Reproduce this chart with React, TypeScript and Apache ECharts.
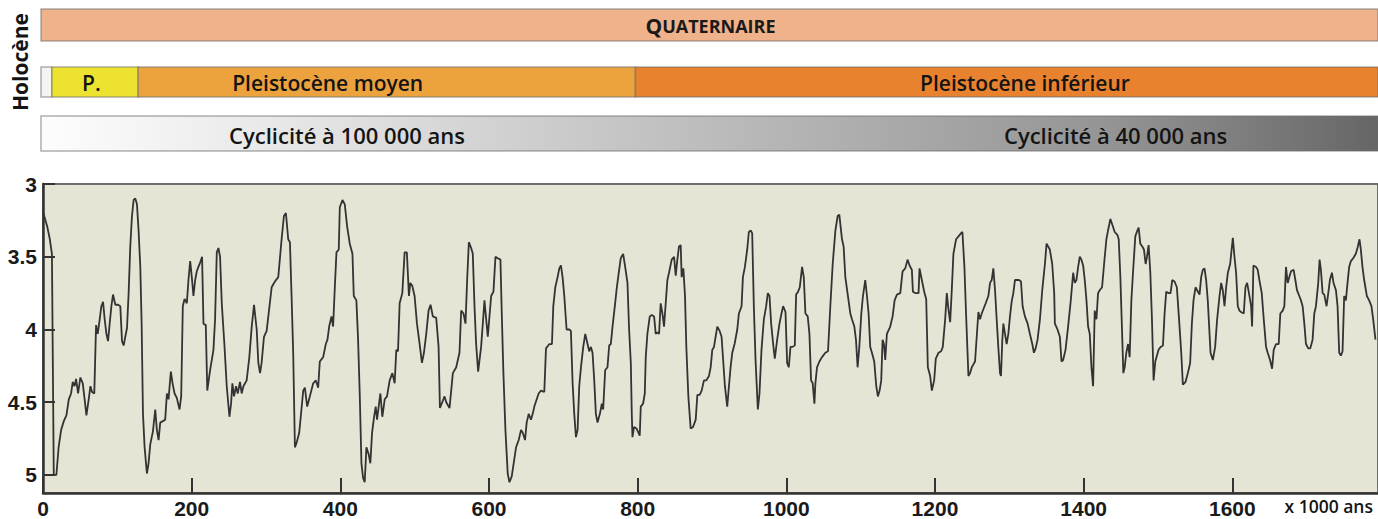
import React, { useEffect, useRef } from "react";
import * as echarts from "echarts";

// ---- δ18O record (age in ka, value in ‰) ----
const d18O_0_292: [number, number][] = [
  [0, 3.19], [5.6, 3.29], [9.2, 3.38], [12, 3.48], [14.5, 5.0], [18, 5.0], [21, 4.81], [24.4, 4.69], [28, 4.63], [31.5, 4.59],
  [34.7, 4.48], [37.8, 4.44], [40, 4.36], [42.3, 4.39], [44.5, 4.34], [47.2, 4.44], [50.3, 4.33], [53.5, 4.37], [56, 4.48], [58.4, 4.59],
  [61.5, 4.48], [63.8, 4.39], [66, 4.43], [69, 4.44], [71.4, 3.97], [73.6, 4.03], [76.3, 3.93], [78.5, 3.84], [80.8, 3.81], [83, 3.93],
  [85.3, 4.03], [87.5, 4.08], [89.7, 3.96], [92, 3.84], [94.2, 3.76], [97.3, 3.83], [100.9, 3.83], [104, 3.84], [106.3, 4.08], [108.5, 4.11],
  [110.7, 4.05], [113, 3.99], [115.2, 3.75], [117.4, 3.43], [119.7, 3.22], [121.9, 3.11], [124.2, 3.1], [126.4, 3.14], [128.6, 3.32], [130.9, 3.57],
  [132.7, 3.96], [134.5, 4.58], [136.7, 4.81], [139.8, 4.99], [142, 4.92], [144.3, 4.79], [147.9, 4.7], [151, 4.55], [153.2, 4.69], [155.5, 4.76],
  [157.7, 4.64], [161.3, 4.63], [164.4, 4.62], [166.7, 4.44], [168.9, 4.48], [172, 4.29], [174.3, 4.37], [177, 4.44], [180, 4.47], [183.7, 4.55],
  [185.9, 4.46], [188.1, 3.84], [190.4, 3.79], [193.5, 3.82], [195.7, 3.66], [198, 3.53], [200.2, 3.64], [202.4, 3.77], [204.7, 3.66], [206.9, 3.6],
  [209.1, 3.57], [211.4, 3.54], [214, 3.5], [215.9, 3.96], [219, 3.97], [221, 4.42], [224.8, 4.28], [229.3, 4.14], [231.5, 3.93], [233.8, 3.47],
  [236, 3.44], [238.2, 3.5], [240.5, 3.82], [244, 4.1], [247.2, 4.39], [250.8, 4.6], [253, 4.51], [254.8, 4.37], [257, 4.46], [259.7, 4.39],
  [262, 4.44], [265, 4.36], [267.3, 4.44], [269.6, 4.39], [274, 4.35], [277.6, 4.19], [280.8, 3.98], [283.9, 3.83], [287.5, 4.0], [289.7, 4.23],
  [292, 4.3],
];
const d18O_292_600: [number, number][] = [
  [294.1, 4.23], [297.3, 4.05], [300.9, 4.01], [307.6, 3.71], [312, 3.67], [316.5, 3.64], [321, 3.38], [324.1, 3.22], [326.8, 3.2], [329.9, 3.38],
  [332.2, 3.4], [334.4, 3.77], [336.6, 4.16], [338.9, 4.81], [341.1, 4.78], [344.7, 4.71], [350.1, 4.42], [352.3, 4.4], [355.4, 4.53], [359, 4.46],
  [363.5, 4.37], [367.1, 4.35], [370.2, 4.4], [372.4, 4.22], [376.9, 4.19], [380.5, 4.1], [382.7, 4.07], [385, 3.98], [388.1, 3.91], [390.3, 3.98],
  [392.6, 3.71], [394.8, 3.47], [397.9, 3.45], [399.3, 3.16], [402.9, 3.11], [406, 3.14], [409.1, 3.29], [412.7, 3.41], [416.3, 3.48], [418.1, 3.77],
  [421.6, 3.8], [423.9, 4.07], [426.1, 4.44], [428.4, 4.92], [430.6, 5.02], [432.8, 5.05], [435.1, 4.81], [438.2, 4.86], [440.4, 4.92], [442.7, 4.71],
  [445.4, 4.6], [447.6, 4.53], [449.4, 4.62], [451.6, 4.53], [453.9, 4.44], [456.5, 4.6], [459.7, 4.48], [462.8, 4.46], [466.4, 4.35], [470, 4.3],
  [473.1, 4.37], [475.3, 4.14], [477.6, 4.15], [479.8, 3.82], [483.4, 3.75], [486.5, 3.47], [489.5, 3.47], [492.3, 3.77], [494.1, 3.68], [496.8, 3.7],
  [499.9, 3.77], [503.1, 3.96], [506.7, 4.1], [509.8, 4.23], [512.5, 4.16], [515.6, 4.03], [518.7, 3.87], [521.4, 3.83], [524.5, 3.91], [529, 3.92],
  [532.2, 4.12], [534, 4.54], [537.1, 4.5], [540.2, 4.46], [542.5, 4.5], [546.9, 4.54], [551.4, 4.3], [555.9, 4.26], [560.3, 4.16], [562.6, 3.87],
  [565.7, 3.89], [568.4, 3.96], [570.6, 3.66], [572.9, 3.4], [576, 3.44], [578.2, 3.48], [580.5, 3.84], [582.7, 4.1], [585.4, 4.29], [589.4, 4.12],
  [591.7, 3.96], [593.9, 3.8], [596.2, 3.93], [598.4, 4.05],
];
const d18O_600_870: [number, number][] = [
  [602.9, 3.77], [606, 3.74], [608.7, 3.5], [611.8, 3.51], [615.4, 3.52], [617.2, 3.89], [619.4, 4.3], [622.1, 4.69], [625.2, 4.99], [627.5, 5.05],
  [630.6, 5.01], [636.4, 4.81], [640, 4.76], [643.1, 4.69], [645.4, 4.71], [648.5, 4.76], [650.7, 4.64], [653.4, 4.58], [656.5, 4.62], [658.8, 4.58],
  [661, 4.53], [664.2, 4.48], [666.8, 4.44], [670, 4.42], [674.4, 4.43], [676.7, 4.13], [681.2, 4.1], [684.7, 4.1], [686.5, 3.84], [689.2, 3.71],
  [692.3, 3.64], [694.6, 3.58], [696.8, 3.56], [699, 3.64], [701.3, 3.77], [704.4, 4.0], [708, 4.0], [710.2, 4.01], [712.5, 4.37], [714.7, 4.58],
  [717, 4.74], [719.2, 4.69], [721.4, 4.39], [723.7, 4.26], [726.8, 4.12], [729.5, 4.03], [732.6, 4.1], [734.8, 4.15], [737.1, 4.12], [739.3, 4.16],
  [741.6, 4.35], [743.8, 4.58], [746, 4.64], [749.2, 4.58], [751.8, 4.51], [753.6, 4.55], [756.3, 4.28], [759.4, 4.26], [761.7, 4.11], [763.9, 4.1],
  [766.2, 3.98], [769.3, 3.84], [772, 3.71], [775.1, 3.59], [777.3, 3.51], [780.5, 3.48], [783.2, 3.57], [786.3, 3.68], [788.5, 4.0], [790.8, 4.23],
  [792.1, 4.58], [793, 4.74], [795.2, 4.67], [798.4, 4.68], [802.8, 4.73], [804.2, 4.53], [807.3, 4.51], [809.6, 4.44], [810.9, 4.19], [813.1, 4.03],
  [816.3, 3.91], [819, 3.9], [822.1, 3.91], [824.3, 4.03], [826.6, 4.02], [828.8, 4.03], [831, 3.82], [833.3, 3.89], [835.5, 3.98], [840, 3.66],
  [842.2, 3.61], [845.8, 3.52], [849, 3.5], [851.2, 3.63], [853.4, 3.52], [855.6, 3.43], [857.9, 3.42], [859.2, 3.64], [861.5, 3.58], [863.7, 3.77],
  [865.5, 4.12], [868.2, 4.46],
];
const d18O_870_1137: [number, number][] = [
  [871.3, 4.68], [874.5, 4.67], [878.1, 4.62], [880.3, 4.45], [883.4, 4.45], [886.1, 4.42], [889.2, 4.35], [892.4, 4.35], [895.9, 4.32], [898.2, 4.26],
  [900.4, 4.14], [902.7, 4.12], [907.1, 3.98], [910.3, 4.01], [912.9, 4.05], [917.4, 4.39], [920.5, 4.53], [922.8, 4.39], [925, 4.26], [927.3, 4.16],
  [930.4, 4.1], [934, 4.0], [936.2, 3.89], [939.8, 3.84], [941.6, 3.64], [944.3, 3.57], [947.4, 3.45], [949.6, 3.33], [952.3, 3.32], [954.1, 3.34],
  [956.3, 3.84], [958.6, 4.21], [961.7, 4.55], [963.9, 4.44], [966.6, 4.14], [969.8, 3.93], [972.9, 3.84], [975.1, 3.75], [977.4, 3.77], [979.6, 3.96],
  [982.3, 4.1], [984.5, 4.2], [987.7, 4.07], [990.8, 3.96], [993.5, 3.89], [995.7, 3.84], [998.9, 3.88], [1001.1, 4.23], [1003.3, 4.26], [1005.6, 4.12],
  [1007.8, 4.12], [1011.4, 4.11], [1013.2, 3.76], [1015.8, 3.74], [1018.1, 3.71], [1021.2, 3.57], [1023.5, 3.64], [1025.7, 3.89], [1028.8, 3.91], [1031.1, 4.03],
  [1033.3, 4.35], [1035.5, 4.37], [1037.8, 4.51], [1039.1, 4.37], [1041.3, 4.26], [1044.5, 4.22], [1048, 4.19], [1052.5, 4.16], [1056.1, 4.15], [1059.2, 3.84],
  [1062.4, 3.55], [1066, 3.32], [1069.1, 3.22], [1071.3, 3.21], [1074.9, 3.38], [1077.1, 3.43], [1079.4, 3.64], [1082.9, 3.77], [1086.1, 3.89], [1088.3, 3.93],
  [1091.5, 3.98], [1093.7, 4.07], [1095.9, 4.26], [1098.2, 4.12], [1100.9, 3.89], [1103.1, 3.77], [1106.2, 3.66], [1108.5, 3.77], [1110.7, 3.89], [1112.9, 4.12],
  [1115.2, 4.16], [1118.3, 4.22], [1121, 4.39], [1123.2, 4.46], [1125.5, 4.42], [1127.7, 4.35], [1129.5, 4.07], [1131.3, 4.1], [1133.1, 4.21], [1135.3, 4.03],
];
const d18O_1137_1352: [number, number][] = [
  [1139.8, 3.98], [1143, 3.91], [1145.7, 3.8], [1148.8, 3.76], [1153.3, 3.75], [1156.4, 3.6], [1160, 3.58], [1163.1, 3.52], [1165.8, 3.56], [1168.9, 3.59],
  [1170.3, 3.74], [1173.4, 3.75], [1177.9, 3.75], [1179.2, 3.58], [1182.3, 3.66], [1185.9, 3.75], [1188.2, 3.79], [1190.4, 4.26], [1193.5, 4.32], [1195.8, 4.42],
  [1198.9, 4.35], [1201.1, 4.2], [1204.7, 4.16], [1208.3, 4.15], [1210.5, 4.12], [1213.7, 3.93], [1215.9, 3.75], [1218.1, 3.86], [1220.4, 3.95], [1222.6, 3.73],
  [1224.8, 3.48], [1228.4, 3.38], [1231.6, 3.36], [1234.7, 3.34], [1236.9, 3.33], [1239.6, 3.57], [1241.8, 3.89], [1245, 4.32], [1247.2, 4.3], [1249.5, 4.26],
  [1251.7, 4.24], [1253.9, 4.22], [1258.4, 3.88], [1260.6, 3.93], [1262.9, 3.89], [1268.2, 3.82], [1271.8, 3.77], [1274.1, 3.68], [1276.3, 3.66], [1278.5, 3.58],
  [1280.8, 3.73], [1283, 3.93], [1285.2, 4.12], [1287.5, 4.3], [1288.8, 4.32], [1290.6, 4.07], [1292, 3.96], [1294.2, 4.03], [1296.4, 4.1], [1298.7, 4.03],
  [1300.9, 3.91], [1303.1, 3.81], [1305.4, 3.75], [1307.6, 3.66], [1309.9, 3.66], [1313, 3.66], [1315.7, 3.67], [1317.9, 3.84], [1321, 3.91], [1324.6, 3.96],
  [1327.7, 4.03], [1330.9, 4.1], [1333.1, 4.16], [1335.4, 4.13], [1338, 4.07], [1341.2, 3.93], [1344.3, 3.73], [1347.9, 3.55], [1350.1, 3.41],
];
const d18O_1352_1567: [number, number][] = [
  [1354.5, 3.45], [1357.7, 3.55], [1360.4, 3.75], [1361.3, 3.96], [1364.8, 4.0], [1368, 4.05], [1370.2, 4.22], [1372.4, 4.21], [1375.6, 4.14], [1379.1, 3.98],
  [1382.7, 3.8], [1385.9, 3.61], [1388.1, 3.68], [1390.3, 3.66], [1392.6, 3.57], [1394.8, 3.5], [1397, 3.52], [1399.3, 3.56], [1401.5, 3.66], [1403.8, 3.8],
  [1406, 3.98], [1408.2, 4.03], [1410.5, 4.26], [1412.7, 4.39], [1414.9, 3.87], [1417.2, 3.93], [1419.4, 3.75], [1421.6, 3.73], [1424.8, 3.71], [1427.5, 3.55],
  [1430.6, 3.38], [1432.8, 3.32], [1436, 3.24], [1438.6, 3.28], [1441.8, 3.33], [1445.4, 3.35], [1447.2, 3.38], [1449.4, 3.64], [1451.6, 4.0], [1453.4, 4.3],
  [1455.2, 4.26], [1457.4, 4.16], [1459.7, 4.1], [1461.9, 4.19], [1464.2, 3.8], [1466.4, 3.61], [1469.5, 3.36], [1472.2, 3.32], [1474, 3.3], [1476.2, 3.41],
  [1478.9, 3.43], [1481.1, 3.45], [1483.4, 3.55], [1485.2, 3.5], [1487.4, 3.42], [1489.7, 3.61], [1491.9, 3.93], [1494.1, 4.35], [1496.4, 4.22], [1500.8, 4.14],
  [1503.5, 4.12], [1506.7, 4.11], [1508.9, 3.89], [1511.1, 3.74], [1514.3, 3.75], [1516.9, 3.75], [1519.2, 3.66], [1522.3, 3.67], [1525.4, 3.71], [1528.1, 3.91],
  [1531.3, 4.16], [1533.5, 4.38], [1537.1, 4.36], [1540.2, 4.3], [1543.3, 4.23], [1545.6, 3.96], [1547.8, 3.8], [1550.5, 3.71], [1552.7, 3.73], [1555.9, 3.76],
  [1558.1, 3.64], [1560.3, 3.59], [1562.6, 3.58], [1564.8, 3.66], [1567, 3.8],
];
const d18O_1567_1793: [number, number][] = [
  [1570.7, 4.16], [1573.8, 4.21], [1576.9, 4.12], [1579.6, 3.93], [1582.8, 3.77], [1585, 3.68], [1587.2, 3.73], [1589.5, 3.84], [1591.7, 3.71], [1594, 3.61],
  [1597.1, 3.55], [1600.7, 3.37], [1602.9, 3.5], [1605.1, 3.61], [1607.4, 3.84], [1609.6, 3.87], [1611.8, 3.88], [1615.4, 3.89], [1617.7, 3.71], [1619.9, 3.68],
  [1621.7, 3.73], [1625.3, 3.84], [1626.6, 3.98], [1628.4, 3.56], [1632, 3.57], [1634.2, 3.59], [1636.4, 3.66], [1639.6, 3.75], [1642.3, 3.93], [1645.4, 4.12],
  [1647.6, 4.16], [1650.8, 4.21], [1653.5, 4.27], [1655.7, 4.14], [1658.8, 4.1], [1662.4, 4.1], [1664.6, 3.89], [1667.8, 3.87], [1670, 3.84], [1672.2, 3.57],
  [1674.5, 3.68], [1676.7, 3.64], [1679, 3.6], [1682.5, 3.59], [1684.8, 3.66], [1687, 3.73], [1690.1, 3.77], [1692.4, 3.8], [1694.6, 3.84], [1696.9, 3.96],
  [1699.1, 4.1], [1702.2, 4.13], [1704.9, 4.13], [1708, 4.07], [1710.3, 3.89], [1712.5, 3.84], [1715.6, 3.68], [1717.4, 3.52], [1719.2, 3.59], [1721.5, 3.75],
  [1723.7, 3.76], [1726.8, 3.84], [1729.1, 3.75], [1731.3, 3.66], [1734, 3.61], [1736.2, 3.68], [1739.4, 3.73], [1741.6, 3.84], [1743.8, 4.16], [1746.1, 4.18],
  [1748.3, 4.15], [1750.5, 3.77], [1752.8, 3.8], [1755, 3.68], [1757.2, 3.57], [1759.5, 3.53], [1762.6, 3.51], [1766.2, 3.48], [1768.4, 3.44], [1771.1, 3.38],
  [1772.9, 3.45], [1775.1, 3.57], [1777.4, 3.66], [1781, 3.77], [1784.1, 3.8], [1787.2, 3.84], [1789.5, 3.93], [1792.6, 4.07],
];

// ---- chronology bands (ka) ----
const periodNames = ["Quaternaire"];
const periodStartKa = [0];
const periodEndKa = [2580];
const stageNames = ["Holocène", "P.", "Pleistocène moyen", "Pleistocène inférieur"];
const stageStartKa = [0, 12, 128, 797];
const stageEndKa = [12, 128, 797, 2580];
const cycleNames = ["Cyclicité à 100 000 ans", "Cyclicité à 40 000 ans"];

// ---- axes ----
const xTicksKa = [0, 200, 400, 600, 800, 1000, 1200, 1400, 1600];
const yTicks = [3, 3.5, 4, 4.5, 5];
const xUnitLabel = "x 1000 ans";

// ---- layout / style (not data) ----
const X_MAX = 1796;
const Y_MIN = 3;
const Y_MAX = 5.124;
const ROW_Y = [9, 67, 116];
const ROW_H = [32, 30, 35];
const stageColors = ["#f4f4f2", "#ece22f", "#eca23d", "#e8822f"];
const stageLabelAtKa = [-1, 65, 383, 1321];
const periodLabelAtKa = [898];
const cycleLabelAtKa = [409, 1443];
const BAND_FONT = '"Open Sans", "Noto Sans", sans-serif';
const AXIS_FONT = '"Liberation Sans", Arial, sans-serif';

type BandItem = {
  row: number;
  start: number;
  end: number;
  text: string;
  rich?: boolean;
  labelAt: number;
  fill: any;
  fontSize?: number;
};

export default function App() {
  const ref = useRef<HTMLDivElement>(null);

  useEffect(() => {
    if (!ref.current) return;
    const chart = echarts.init(ref.current, undefined, { renderer: "svg" });

    const record = [
      ...d18O_0_292,
      ...d18O_292_600,
      ...d18O_600_870,
      ...d18O_870_1137,
      ...d18O_1137_1352,
      ...d18O_1352_1567,
      ...d18O_1567_1793,
    ];

    const items: BandItem[] = [];
    periodNames.forEach((n, i) =>
      items.push({ row: 0, start: periodStartKa[i], end: periodEndKa[i], text: n, rich: true, labelAt: periodLabelAtKa[i], fill: "#f0b28b" })
    );
    stageNames.forEach((n, i) =>
      items.push({ row: 1, start: stageStartKa[i], end: stageEndKa[i], text: i === 0 ? "" : n, labelAt: stageLabelAtKa[i], fill: stageColors[i], fontSize: 21 })
    );
    items.push({
      row: 2,
      start: 0,
      end: 2580,
      text: "",
      labelAt: 0,
      fill: new echarts.graphic.LinearGradient(0, 0, 1, 0, [
        { offset: 0, color: "#fdfdfd" },
        { offset: 0.12, color: "#efefef" },
        { offset: 0.5, color: "#bcbcbc" },
        { offset: 0.8, color: "#949494" },
        { offset: 1, color: "#666666" },
      ]),
    });
    cycleNames.forEach((n, i) =>
      items.push({ row: 2, start: cycleLabelAtKa[i], end: cycleLabelAtKa[i], text: n, labelAt: cycleLabelAtKa[i], fill: "none", fontSize: 22 })
    );

    const renderBand = (params: any, api: any) => {
      const it = items[params.dataIndex];
      const cs = params.coordSys;
      const y = ROW_Y[it.row];
      const h = ROW_H[it.row];
      const children: any[] = [];
      if (it.fill !== "none") {
        let x0 = api.coord([it.start, 0])[0];
        let x1 = api.coord([Math.min(it.end, X_MAX), 0])[0];
        if (it.start === 0) x0 -= 2;
        x1 = Math.min(x1, cs.x + cs.width);
        children.push({
          type: "rect",
          shape: { x: x0, y, width: x1 - x0, height: h },
          style: { fill: it.fill, stroke: "rgba(110,110,110,0.55)", lineWidth: 1.5 },
        });
      }
      if (it.text) {
        const lx = api.coord([it.labelAt, 0])[0];
        if (it.rich) {
          const t = it.text.toUpperCase();
          children.push({
            type: "text",
            style: {
              text: "{a|" + t.slice(0, 1) + "}{b|" + t.slice(1) + "}",
              x: lx,
              y: y + h / 2 + 1,
              align: "center",
              verticalAlign: "middle",
              rich: {
                a: { fontSize: 21, fontWeight: "bold", fontFamily: BAND_FONT, fill: "#1a1a1a" },
                b: { fontSize: 18, fontWeight: "bold", fontFamily: BAND_FONT, fill: "#1a1a1a" },
              },
            },
          });
        } else {
          children.push({
            type: "text",
            style: {
              text: it.text,
              x: lx,
              y: y + h / 2 + 1,
              align: "center",
              verticalAlign: "middle",
              fontSize: it.fontSize || 21,
              fontWeight: 600,
              fontFamily: BAND_FONT,
              fill: "#141414",
            },
          });
        }
      }
      return { type: "group", children };
    };

    const fmt = (v: number) => String(v);

    chart.setOption({
      animation: false,
      backgroundColor: "#ffffff",
      grid: [
        {
          left: 43,
          right: -3,
          top: 184,
          bottom: 26,
          show: true,
          backgroundColor: "#e6e4d5",
          borderColor: "#6e6e6e",
          borderWidth: 2,
        },
        { left: 43, right: -3, top: 0, height: 160, show: false },
      ],
      xAxis: [
        {
          type: "value",
          gridIndex: 0,
          min: 0,
          max: X_MAX,
          interval: 200,
          axisLine: { show: true, lineStyle: { color: "#333", width: 2.5 } },
          axisTick: {
            show: true,
            inside: true,
            length: 15,
            lineStyle: { color: "#333", width: 2 },
            customValues: xTicksKa,
          },
          axisLabel: {
            show: true,
            margin: 5,
            color: "#1a1a1a",
            fontSize: 21,
            fontWeight: "bold",
            fontFamily: AXIS_FONT,
            customValues: xTicksKa,
            formatter: fmt,
          },
          splitLine: { show: false },
        },
        { type: "value", gridIndex: 1, min: 0, max: X_MAX, show: false },
      ],
      yAxis: [
        {
          type: "value",
          gridIndex: 0,
          inverse: true,
          min: Y_MIN,
          max: Y_MAX,
          interval: 0.5,
          axisLine: { show: true, lineStyle: { color: "#333", width: 2.5 } },
          axisTick: {
            show: true,
            inside: true,
            length: 12,
            lineStyle: { color: "#333", width: 2 },
            customValues: yTicks,
          },
          axisLabel: {
            show: true,
            margin: 6,
            color: "#1a1a1a",
            fontSize: 21,
            fontWeight: "bold",
            fontFamily: AXIS_FONT,
            customValues: yTicks,
            formatter: fmt,
          },
          splitLine: { show: false },
        },
        { type: "value", gridIndex: 1, min: 0, max: 1, show: false },
      ],
      graphic: [
        {
          type: "text",
          x: 20,
          y: 62,
          rotation: Math.PI / 2,
          style: {
            text: stageNames[0],
            align: "center",
            verticalAlign: "middle",
            fontSize: 21,
            fontWeight: "bold",
            fontFamily: BAND_FONT,
            fill: "#141414",
          },
        },
        {
          type: "text",
          x: 1373,
          y: 506,
          style: {
            text: xUnitLabel,
            align: "right",
            verticalAlign: "middle",
            fontSize: 17.5,
            fontWeight: 600,
            fontFamily: BAND_FONT,
            fill: "#141414",
          },
        },
      ],
      series: [
        {
          type: "custom",
          xAxisIndex: 1,
          yAxisIndex: 1,
          clip: false,
          silent: true,
          data: items.map((it, i) => [it.start, it.end, i]),
          renderItem: renderBand,
        },
        {
          type: "line",
          xAxisIndex: 0,
          yAxisIndex: 0,
          data: record,
          showSymbol: false,
          symbol: "none",
          lineStyle: { color: "#333333", width: 1.8 },
          silent: true,
          clip: true,
        },
      ],
    });

    return () => chart.dispose();
  }, []);

  return (
    <div
      ref={ref}
      style={{ position: "absolute", left: 0, top: 0, width: 1378, height: 519, overflow: "hidden" }}
    />
  );
}
